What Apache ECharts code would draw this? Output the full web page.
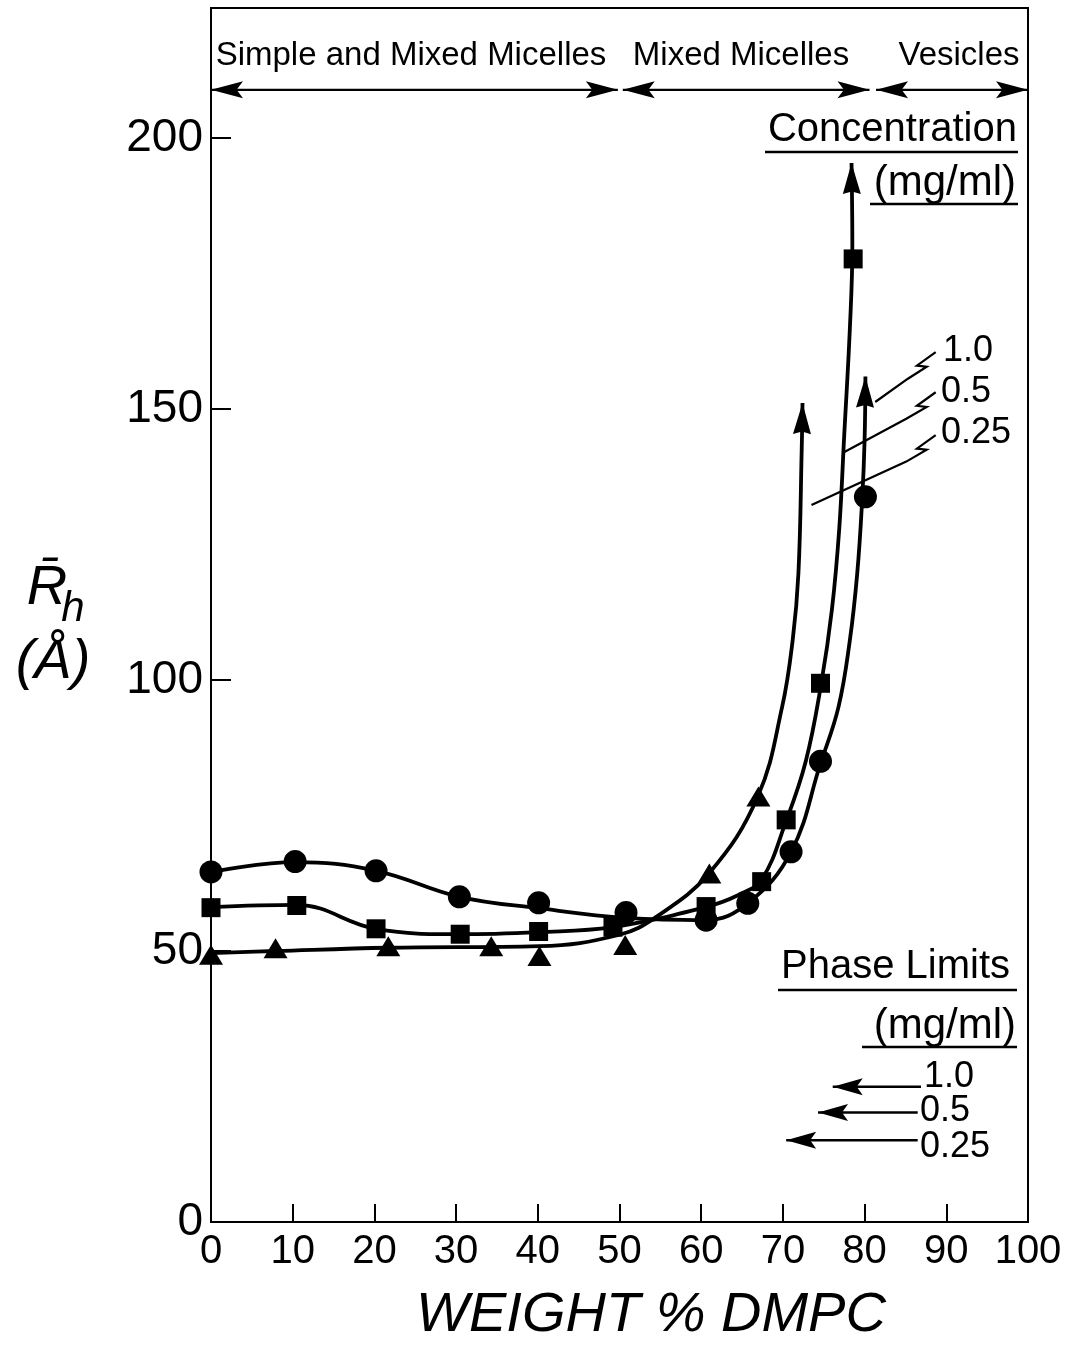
<!DOCTYPE html>
<html><head><meta charset="utf-8">
<script src="https://cdn.jsdelivr.net/npm/echarts@6/dist/echarts.min.js"></script>
<style>html,body{margin:0;padding:0;background:#fff}#c{width:1080px;height:1348px}</style>
</head><body><div id="c"></div>
<script>
// ---------- DATA ----------
const xTickValues = [0,10,20,30,40,50,60,70,80,90,100];
const yTickValues = [0,50,100,150,200];

// measured points (weight % DMPC, Rh in Angstrom)
const circleX   = [0, 10.3, 20.2, 30.4, 40.1, 50.8, 60.6, 65.7, 71.0, 74.6, 80.1];   // 1.0 mg/ml
const circleY   = [64.6, 66.5, 64.8, 60.0, 58.9, 57.1, 55.7, 58.8, 68.3, 85.0, 133.8];
const squareX   = [0, 10.5, 20.2, 30.5, 40.1, 49.2, 60.6, 67.4, 70.4, 74.6, 78.6];   // 0.5 mg/ml
const squareY   = [58.0, 58.4, 54.1, 53.1, 53.6, 54.4, 58.2, 62.8, 74.2, 99.4, 177.7];
const triangleX = [0, 7.9, 21.7, 34.3, 40.2, 50.7, 61.0, 67.0];                      // 0.25 mg/ml
const triangleY = [49.3, 50.5, 50.9, 50.9, 49.1, 51.1, 64.3, 78.5];

// hand-drawn trend curves; last point = arrow tip
const circleCurveX   = [0, 10.3, 20.2, 30.4, 40.1, 50.9, 60.6, 65.7, 71.0, 74.6, 76.8, 78.2, 79.1, 79.7, 80.0, 80.1];
const circleCurveY   = [64.6, 66.4, 64.8, 60.0, 57.9, 56.1, 55.7, 58.8, 68.3, 84.6, 95.0, 107.4, 119.7, 133.2, 144.3, 156.0];
const squareCurveX   = [0, 10.5, 20.2, 30.4, 40.1, 49.1, 60.5, 64.5, 67.4, 70.4, 72.8, 74.7, 76.0, 76.9, 77.5, 78.2, 78.5, 78.4];
const squareCurveY   = [58.1, 58.5, 54.1, 53.1, 53.5, 54.4, 58.1, 60.3, 63.2, 74.0, 85.0, 99.4, 113.0, 128.0, 145.0, 165.0, 180.0, 195.4];
const triangleCurveX = [0, 8.0, 21.7, 40.2, 50.0, 54.5, 61.0, 66.9, 69.9, 71.2, 71.9, 72.3, 72.4];
const triangleCurveY = [49.6, 50.0, 50.6, 50.9, 53.0, 56.3, 64.4, 78.4, 95.0, 107.4, 119.7, 142.4, 151.1];

// phase regions (top bracket)
const regionNames = ['Simple and Mixed Micelles', 'Mixed Micelles', 'Vesicles'];
const regionStart = [0, 50.4, 81.4];
const regionEnd   = [49.8, 80.6, 100];
const regionY     = 208.9;

// concentration labels and leaders (data coords)
const concLabels = ['1.0', '0.5', '0.25'];
const leader10X  = [88.7, 86.4, 87.6, 85.3, 81.3];
const leader10Y  = [160.5, 158.0, 157.8, 155.6, 151.3];
const leader05X  = [88.7, 86.4, 87.6, 85.1, 77.3];
const leader05Y  = [153.1, 150.6, 150.4, 148.2, 141.9];
const leader025X = [88.7, 86.4, 87.6, 85.1, 73.5];
const leader025Y = [145.2, 142.7, 142.5, 140.3, 132.3];

// phase limits arrows
const phaseLabels = ['1.0', '0.5', '0.25'];
const phaseY      = [24.96, 20.2, 15.1];
const phaseFromX  = [86.9, 86.5, 86.5];
const phaseTipX   = [76.1, 74.3, 70.4];

// ---------- CHART ----------
const zip = (a, b) => a.map((v, i) => [v, b[i]]);
const FF = "'Liberation Sans', Arial, sans-serif";
const K = '#000';

const chart = echarts.init(document.getElementById('c'), null, {renderer: 'canvas'});

function arrowHead(tip, from, L, W, notch) {
  const dx = tip[0] - from[0], dy = tip[1] - from[1];
  const len = Math.hypot(dx, dy) || 1;
  const ux = dx / len, uy = dy / len;
  const px = -uy, py = ux;
  const bx = tip[0] - ux * L, by = tip[1] - uy * L;
  const nx = tip[0] - ux * L * notch, ny = tip[1] - uy * L * notch;
  return {type: 'polygon', shape: {points: [tip, [bx + px * W / 2, by + py * W / 2], [nx, ny], [bx - px * W / 2, by - py * W / 2]]},
          style: {fill: K, stroke: null}};
}

function renderAnnotations(params, api) {
  const ch = [];
  const c = p => api.coord(p);
  // curve arrowheads
  [[circleCurveX, circleCurveY], [squareCurveX, squareCurveY], [triangleCurveX, triangleCurveY]].forEach(([xs, ys]) => {
    const n = xs.length;
    const tip = c([xs[n - 1], ys[n - 1]]);
    const prev = c([xs[n - 2], ys[n - 2]]);
    ch.push(arrowHead(tip, prev, 31, 18, 0.92));
  });
  // top bracket arrows
  regionStart.forEach((s, i) => {
    const a = c([s, regionY]), b = c([regionEnd[i], regionY]);
    ch.push({type: 'line', shape: {x1: a[0], y1: a[1], x2: b[0], y2: b[1]}, style: {stroke: K, lineWidth: 2.2}});
    ch.push(arrowHead(a, b, 32, 17, 0.8));
    ch.push(arrowHead(b, a, 32, 17, 0.8));
  });
  // leaders
  [[leader10X, leader10Y], [leader05X, leader05Y], [leader025X, leader025Y]].forEach(([xs, ys]) => {
    ch.push({type: 'polyline', shape: {points: xs.map((x, i) => c([x, ys[i]]))}, style: {stroke: K, lineWidth: 2.2, fill: null}});
  });
  // phase-limit arrows
  phaseY.forEach((y, i) => {
    const a = c([phaseFromX[i], y]), b = c([phaseTipX[i], y]);
    ch.push({type: 'line', shape: {x1: a[0], y1: a[1], x2: b[0], y2: b[1]}, style: {stroke: K, lineWidth: 2.5}});
    ch.push(arrowHead(b, a, 30, 17, 0.8));
  });
  return {type: 'group', children: ch};
}

const curveStyle = {color: K, width: 3.8};
function curve(name, xs, ys) {
  return {type: 'line', name, data: zip(xs, ys), smooth: 0.4, showSymbol: false, symbol: 'none',
          lineStyle: curveStyle, z: 2, silent: true, animation: false};
}
function pts(name, xs, ys, symbol, size) {
  return {type: 'scatter', name, data: zip(xs, ys), symbol, symbolSize: size,
          itemStyle: {color: K, opacity: 1}, z: 5, silent: true, animation: false};
}

function txt(text, x, y, size, align, extra) {
  return {type: 'text', x, y, z: 100, silent: true,
    style: Object.assign({text, fill: K, font: `${size}px ${FF}`, fontSize: size, fontFamily: FF,
      align, verticalAlign: 'middle', textAlign: align, textVerticalAlign: 'middle'}, extra || {})};
}
function itxt(text, x, y, size, align) {
  return txt(text, x, y, size, align, {font: `italic ${size}px ${FF}`, fontStyle: 'italic'});
}
function uline(x1, x2, y) {
  return {type: 'line', z: 100, silent: true, shape: {x1, y1: y, x2, y2: y}, style: {stroke: K, lineWidth: 2.4}};
}

const option = {
  backgroundColor: '#fff',
  animation: false,
  grid: {left: 211, right: 52, top: 8, bottom: 126, show: true, borderColor: K, borderWidth: 2, backgroundColor: 'transparent'},
  xAxis: {
    type: 'value', min: 0, max: 100, interval: 10,
    axisLine: {show: true, onZero: false, lineStyle: {color: K, width: 2}},
    axisTick: {show: true, inside: true, length: 18, lineStyle: {color: K, width: 2}},
    axisLabel: {color: K, fontSize: 40, fontFamily: FF, margin: 10,
      formatter: v => xTickValues.includes(v) ? String(v) : ''},
    splitLine: {show: false}
  },
  yAxis: {
    type: 'value', min: 0, max: 224, interval: 50,
    axisLine: {show: true, onZero: false, lineStyle: {color: K, width: 2}},
    axisTick: {show: true, inside: true, length: 20, lineStyle: {color: K, width: 2}},
    axisLabel: {color: K, fontSize: 46, fontFamily: FF, margin: 8, showMaxLabel: false,
      formatter: v => yTickValues.includes(v) ? String(v) : ''},
    splitLine: {show: false}
  },
  series: [
    curve('c1.0', circleCurveX, circleCurveY),
    curve('c0.5', squareCurveX, squareCurveY),
    curve('c0.25', triangleCurveX, triangleCurveY),
    pts('1.0 mg/ml', circleX, circleY, 'circle', 23),
    pts('0.5 mg/ml', squareX, squareY, 'rect', 19),
    pts('0.25 mg/ml', triangleX, triangleY, 'triangle', [24, 20]),
    {type: 'custom', coordinateSystem: 'cartesian2d', data: [[0, 0]], renderItem: renderAnnotations,
     silent: true, z: 4, clip: false, animation: false}
  ],
  graphic: [
    txt(regionNames[0], 411, 56, 33, 'center'),
    txt(regionNames[1], 741, 56, 33, 'center'),
    txt(regionNames[2], 959, 56, 33, 'center'),
    txt('Concentration', 1017, 130, 40, 'right'),
    uline(765, 1018, 152),
    txt('(mg/ml)', 1016, 183, 42, 'right'),
    uline(870, 1018, 204),
    txt(concLabels[0], 943, 351, 36, 'left'),
    txt(concLabels[1], 941, 392, 36, 'left'),
    txt(concLabels[2], 941, 433, 36, 'left'),
    txt('Phase Limits', 1010, 967, 40, 'right'),
    uline(778, 1017, 990),
    txt('(mg/ml)', 1016, 1026, 42, 'right'),
    uline(862, 1017, 1047),
    txt(phaseLabels[0], 924, 1077, 36, 'left'),
    txt(phaseLabels[1], 920, 1111, 36, 'left'),
    txt(phaseLabels[2], 920, 1147, 36, 'left'),
    itxt('WEIGHT % DMPC', 651, 1315, 56, 'center'),
    itxt('R\u0304', 47, 588, 56, 'center'),
    itxt('h', 73, 609, 42, 'center'),
    itxt('(Å)', 53, 662, 56, 'center')
  ]
};
chart.setOption(option);
</script>
</body></html>
